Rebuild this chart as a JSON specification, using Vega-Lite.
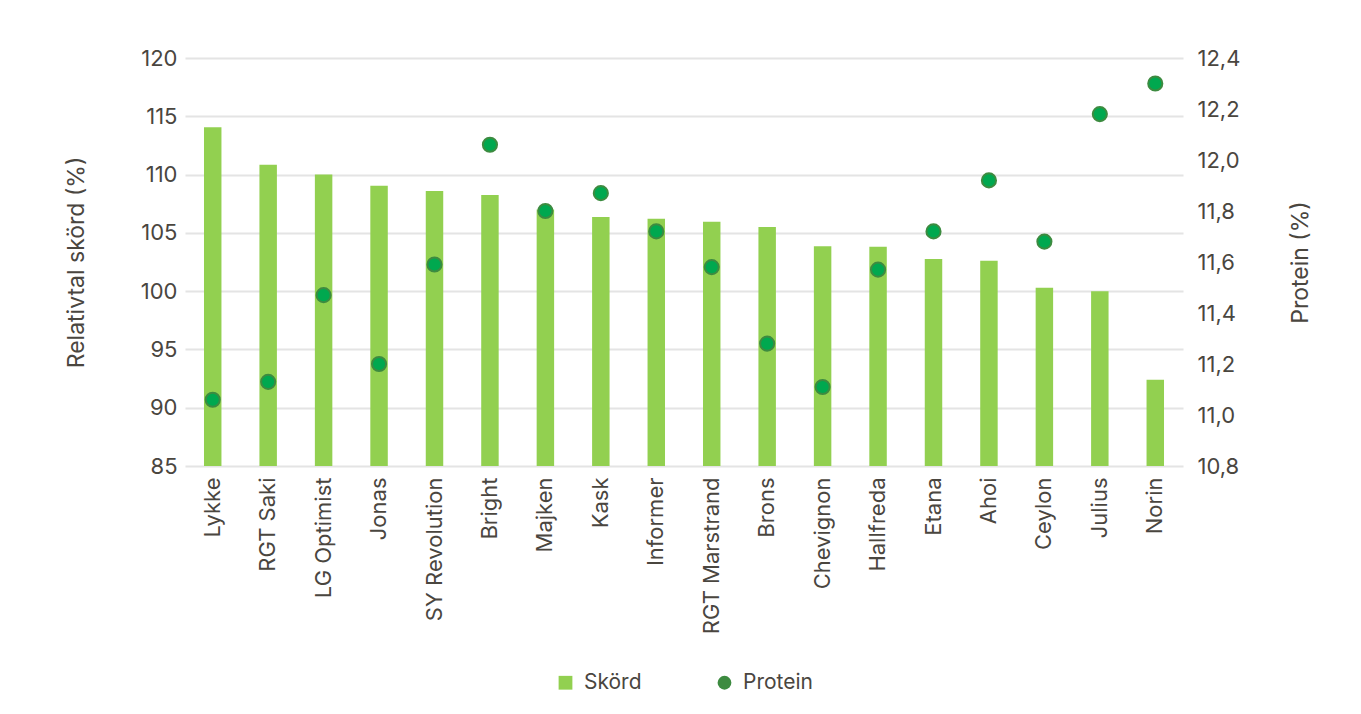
{
  "$schema": "https://vega.github.io/schema/vega-lite/v6.json",
  "width": 998,
  "height": 408,
  "autosize": {"type": "none"},
  "padding": {"left": 185, "top": 58, "right": 178, "bottom": 248},
  "background": "white",
  "config": {
    "font": "Inter",
    "view": {"stroke": null},
    "axis": {
      "labelFont": "Inter",
      "labelFontSize": 22,
      "labelColor": "#4a463f",
      "titleFont": "Inter",
      "titleFontSize": 23,
      "titleFontWeight": "normal",
      "titleColor": "#4a463f",
      "ticks": false,
      "domain": false
    },
    "legend": {"layout": {"bottom": {"anchor": "middle"}}}
  },
  "data": {
    "values": [
      {"sorte": "Lykke", "skord": 114.05, "protein": 11.06},
      {"sorte": "RGT Saki", "skord": 110.85, "protein": 11.13},
      {"sorte": "LG Optimist", "skord": 110.0, "protein": 11.47},
      {"sorte": "Jonas", "skord": 109.05, "protein": 11.20},
      {"sorte": "SY Revolution", "skord": 108.6, "protein": 11.59},
      {"sorte": "Bright", "skord": 108.25, "protein": 12.06},
      {"sorte": "Majken", "skord": 107.0, "protein": 11.80},
      {"sorte": "Kask", "skord": 106.35, "protein": 11.87},
      {"sorte": "Informer", "skord": 106.2, "protein": 11.72},
      {"sorte": "RGT Marstrand", "skord": 105.95, "protein": 11.58},
      {"sorte": "Brons", "skord": 105.5, "protein": 11.28},
      {"sorte": "Chevignon", "skord": 103.85, "protein": 11.11},
      {"sorte": "Hallfreda", "skord": 103.8, "protein": 11.57},
      {"sorte": "Etana", "skord": 102.75, "protein": 11.72},
      {"sorte": "Ahoi", "skord": 102.6, "protein": 11.92},
      {"sorte": "Ceylon", "skord": 100.3, "protein": 11.68},
      {"sorte": "Julius", "skord": 100.0, "protein": 12.18},
      {"sorte": "Norin", "skord": 92.4, "protein": 12.30}
    ]
  },
  "encoding": {
    "x": {
      "field": "sorte",
      "type": "nominal",
      "sort": null,
      "title": null,
      "scale": {"paddingInner": 0.685, "paddingOuter": 0.3425},
      "axis": {"labelAngle": -90, "labelPadding": 11}
    }
  },
  "layer": [
    {
      "mark": {"type": "bar"},
      "encoding": {
        "y": {
          "field": "skord",
          "type": "quantitative",
          "scale": {"domain": [85, 120], "zero": false, "nice": false},
          "axis": {
            "title": "Relativtal skörd (%)",
            "values": [85, 90, 95, 100, 105, 110, 115, 120],
            "grid": true,
            "gridColor": "#e4e4e4",
            "gridWidth": 2,
            "labelPadding": 8,
            "titlePadding": 52
          }
        },
        "y2": {"datum": 85},
        "color": {
          "datum": "Skörd",
          "type": "nominal",
          "scale": {"domain": ["Skörd", "Protein"], "range": ["#92d050", "#3d8b40"]},
          "legend": {
            "title": null,
            "orient": "bottom",
            "direction": "horizontal",
            "offset": 38,
            "symbolSize": 190,
            "symbolStrokeWidth": 0,
            "labelFont": "Inter",
            "labelFontSize": 21,
            "labelColor": "#4a463f",
            "labelOffset": 8,
            "columnPadding": 72,
            "encode": {
              "symbols": {
                "update": {
                  "shape": {"signal": "datum.value === 'Skörd' ? 'square' : 'circle'"},
                  "fill": {"signal": "datum.value === 'Skörd' ? '#92d050' : '#3d8b40'"}
                }
              }
            }
          }
        }
      }
    },
    {
      "mark": {"type": "point", "filled": true, "fill": "#00a84f", "size": 200, "stroke": "#3d8b40", "strokeWidth": 2, "opacity": 1},
      "encoding": {
        "y": {
          "field": "protein",
          "type": "quantitative",
          "scale": {"domain": [10.8, 12.4], "zero": false, "nice": false},
          "axis": {
            "orient": "right",
            "title": "Protein (%)",
            "titleAngle": -90,
            "titleBaseline": "top",
            "values": [10.8, 11.0, 11.2, 11.4, 11.6, 11.8, 12.0, 12.2, 12.4],
            "labelExpr": "replace(format(datum.value, '.1f'), '.', ',')",
            "grid": false,
            "labelPadding": 14,
            "titlePadding": 50
          }
        }
      }
    }
  ],
  "resolve": {"scale": {"y": "independent"}}
}
